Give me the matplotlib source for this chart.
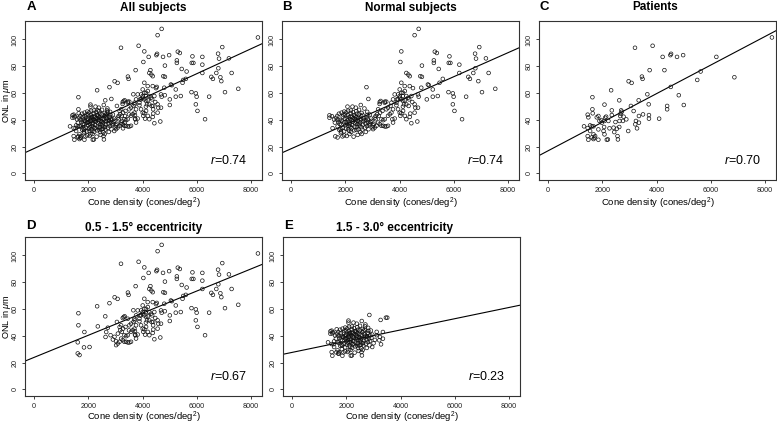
import matplotlib
matplotlib.use("Agg")
import matplotlib.pyplot as plt
import numpy as np

plt.rcParams["font.family"] = ["Liberation Sans", "DejaVu Sans"]
plt.rcParams["mathtext.fontset"] = "custom"
plt.rcParams["mathtext.rm"] = "Liberation Sans"
plt.rcParams["mathtext.it"] = "Liberation Sans:italic"

# (cone density, ONL thickness)
patients_near = [
    (8250, 101.5), (3200, 93.8), (3850, 95.3), (4220, 87.0), (4505, 88.3), (4530, 89.3),
    (4750, 87.0), (4975, 88.3), (6200, 87.0), (4285, 77.1), (3740, 77.1), (5620, 76.1),
    (5495, 69.8), (6865, 71.8), (3455, 72.3), (3480, 70.6), (2965, 68.8), (3075, 67.6),
    (2320, 62.1), (3655, 59.1), (4520, 64.6), (4815, 58.4), (5000, 51.1), (4385, 50.4),
    (4385, 47.9), (3335, 54.6), (3705, 51.6), (2620, 54.6), (1630, 56.9), (1630, 47.9),
    (4090, 40.9), (3715, 43.6), (3715, 40.9), (3495, 44.1), (3050, 50.4), (3150, 46.6),
    (2040, 31.7), (1850, 42.9), (1605, 35.2), (1605, 26.9), (1670, 25.7),
    (2345, 47.1), (2715, 46.1), (2655, 42.9), (2630, 39.2),
]
patients_far = [
    (1455, 43.9), (1480, 41.9), (1640, 44.9), (1320, 35.2), (1455, 33.9), (1545, 35.9),
    (1670, 35.2), (1545, 31.7), (1455, 27.9), (1480, 25.2), (1670, 29.2), (1730, 27.9),
    (1850, 25.2), (1850, 32.9), (1890, 39.2), (1790, 41.9), (1950, 39.9), (1975, 37.9),
    (2075, 39.2), (2100, 41.6), (2135, 42.4), (2220, 39.2), (2060, 34.7), (2075, 29.2),
    (2160, 25.2), (2200, 25.4), (2260, 33.7), (2345, 43.6), (2410, 34.2), (2435, 30.9),
    (2480, 38.4), (2530, 33.4), (2555, 27.9), (2570, 25.4), (2620, 34.7), (2670, 44.6),
    (2690, 47.1), (2755, 39.2), (2780, 42.4), (2880, 40.4), (2950, 31.7), (3210, 36.7),
    (3235, 39.2), (3275, 33.7), (3345, 37.9), (3345, 42.9), (2075, 51.4), (1705, 26.7),
]
normals_near = [
    (2775, 64.4), (2815, 40.5), (2960, 39.3), (2900, 37.3), (3020, 36.0), (3080, 34.3),
    (1835, 31.4), (3205, 47.9), (3265, 53.3), (3300, 54.1), (3170, 44.2), (3230, 43.0),
    (3280, 45.4), (3365, 46.7), (3325, 40.5), (3390, 39.8), (3205, 38.0), (3265, 36.8),
    (3325, 35.6), (3390, 35.6), (3450, 35.1), (3510, 35.1), (3570, 35.6), (3145, 35.6),
    (3450, 40.5), (3570, 43.0), (3635, 44.2), (3695, 45.4), (3755, 47.9), (3570, 49.1),
    (3660, 50.4), (3730, 40.5), (3815, 41.0), (3755, 38.0), (3510, 47.9), (3085, 41.7),
    (3020, 33.1), (3450, 52.8), (3695, 52.8), (3880, 52.8), (3940, 55.3), (4000, 56.5),
    (4060, 55.3), (4120, 57.8), (4000, 62.7), (4060, 67.7), (4120, 60.2), (4185, 65.2),
    (3940, 47.9), (4000, 45.4), (4120, 49.9), (4160, 51.6), (3815, 59.0), (3755, 55.3),
    (4700, 107.9), (4550, 103.2), (4060, 91.1), (4025, 83.2), (5295, 90.9), (5370, 89.9),
    (5260, 84.4), (5260, 82.5), (4820, 80.5), (5835, 87.4), (5810, 82.5), (5870, 82.5),
    (6200, 81.2), (6780, 89.4), (6935, 94.3), (7180, 85.9), (6815, 85.7), (6790, 78.5),
    (4245, 75.0), (4320, 73.8), (4370, 72.6), (4760, 72.6), (4820, 72.1), (5440, 78.0),
    (6200, 75.0), (6715, 75.0), (6530, 72.1), (6590, 70.6), (6900, 68.9), (7280, 75.0),
    (6450, 57.3), (7035, 60.7), (7525, 63.2), (5990, 57.3), (5800, 60.7), (5960, 59.8),
    (6300, 40.5), (5960, 51.6), (6020, 46.7), (5590, 70.6), (5220, 62.7), (5040, 66.4),
    (5075, 65.9), (4795, 64.0), (4675, 59.0), (4370, 65.2), (4490, 63.7), (4190, 61.5),
    (4060, 60.2), (3940, 59.0), (4000, 57.8), (4245, 57.8), (4310, 56.5), (4430, 57.8),
    (4700, 57.3), (5000, 55.3), (5220, 57.3), (5405, 57.8), (5470, 67.7), (4125, 54.1),
    (4190, 54.6), (4350, 55.3), (4465, 53.3), (4245, 51.6), (4550, 51.6), (4675, 49.1),
    (4330, 50.4), (4125, 46.7), (4060, 44.9), (4025, 43.0), (4190, 43.0), (4390, 44.7),
    (4550, 45.4), (4575, 49.1), (4370, 42.2), (4430, 37.5), (4650, 38.8), (4245, 40.5),
    (3900, 55.3), (3880, 50.9),
]
normals_far = [
    (2845, 55.6), (3260, 51.9), (3455, 53.6), (3505, 53.6), (3115, 40.5), (3115, 43.0),
    (2565, 51.1), (2380, 49.1), (2075, 49.9), (2260, 49.9), (1855, 45.4), (1955, 46.2),
    (1410, 43.4), (1410, 41.6), (1500, 42.8), (1580, 40.3), (1610, 38.0), (1710, 35.1),
    (1770, 32.6), (1830, 30.1), (1890, 27.7), (1525, 33.8), (1625, 27.7), (1710, 26.9),
    (1950, 28.5), (2050, 28.0), (2150, 29.5), (2300, 27.5), (2450, 28.8), (2600, 29.5),
    (2750, 31.0), (2850, 33.0), (3000, 34.5), (3050, 37.0), (2950, 41.0), (2900, 44.0),
    (2800, 46.0), (2700, 48.5), (2500, 47.5), (2400, 46.5), (2200, 47.0), (2100, 46.8),
    (1980, 44.0), (1900, 42.5), (1800, 40.0), (1750, 38.5), (1700, 43.0), (1650, 41.5),
    (1850, 36.5), (1900, 34.0), (1950, 31.5), (2000, 36.0), (2020, 38.5), (2050, 41.0),
    (2080, 43.5), (2100, 33.0), (2120, 35.5), (2150, 38.0), (2170, 40.5), (2190, 42.5),
    (2200, 44.8), (2210, 31.0), (2230, 33.8), (2250, 36.2), (2270, 38.7), (2290, 41.2),
    (2310, 43.5), (2330, 35.0), (2350, 37.5), (2370, 40.0), (2390, 42.0), (2400, 32.5),
    (2420, 34.6), (2440, 36.8), (2460, 39.2), (2480, 41.5), (2500, 44.0), (2520, 35.8),
    (2540, 38.0), (2560, 40.3), (2580, 42.8), (2600, 45.2), (2620, 32.8), (2640, 36.5),
    (2660, 38.9), (2680, 41.0), (2720, 34.2), (2740, 37.2), (2760, 39.8), (2790, 35.4),
    (2810, 43.8), (2830, 37.9), (2870, 36.2), (2920, 38.5), (1950, 38.2), (1980, 40.8),
    (2010, 33.5), (2030, 45.5), (2060, 37.0), (2090, 39.6), (2130, 42.0), (2140, 31.8),
    (2180, 34.6), (2240, 39.8), (2280, 45.8), (2320, 32.2), (2360, 43.0), (2380, 38.9),
    (2430, 44.6), (2470, 33.0), (2510, 37.0), (2550, 30.8), (2590, 34.5), (2630, 43.7),
    (2700, 39.7), (2780, 41.8), (1760, 44.6), (1790, 36.9), (1820, 33.2), (1870, 39.2),
    (1920, 43.9), (1720, 40.1), (2160, 36.6), (2340, 40.8), (2530, 40.9), (2230, 42.3),
]

letters = ["A", "B", "C", "D", "E"]
titles = ["All subjects", "Normal subjects", "Patients",
          "0.5 - 1.5\u00b0 eccentricity", "1.5 - 3.0\u00b0 eccentricity"]
r_labels = ["0.74", "0.74", "0.70", "0.67", "0.23"]
intercepts = [18.7, 18.5, 17.0, 24.0, 27.7]
slopes = [9.3e-3, 8.96e-3, 10.66e-3, 8.25e-3, 4.19e-3]

groups = [
    patients_near + patients_far + normals_near + normals_far,
    normals_near + normals_far,
    patients_near + patients_far,
    patients_near + normals_near,
    patients_far + normals_far,
]

W, H = 777, 426
fig = plt.figure(figsize=(W / 100, H / 100), dpi=100)

# axes boxes in pixels: left, top
boxes = [(25, 20.7), (282, 20.7), (539, 20.7), (25, 236.7), (283, 236.7)]
bw, bh = 237, 159.5
title_pos = [(153, 7.5), (411, 7.5), (655.5, 7.5), (144, 227.5), (394, 227.5)]
letter_pos = [(27, 7.5), (282, 7.5), (539, 7.5), (26, 225.5), (284, 225.5)]

for i in range(5):
    left, top = boxes[i]
    ax = fig.add_axes([left / W, 1 - (top + bh) / H, bw / W, bh / H])
    pts = np.array(groups[i])
    ax.scatter(pts[:, 0], pts[:, 1], s=7, facecolors="none",
               edgecolors="#111111", linewidths=0.5, zorder=3)
    ax.axline((0, intercepts[i]), slope=slopes[i], color="black", lw=0.8)

    ax.set_xlim(-340, 8400)
    ax.set_ylim(-5, 114)
    ax.set_xticks([0, 2000, 4000, 6000, 8000])
    ax.set_yticks([0, 20, 40, 60, 80, 100])
    ax.tick_params(labelsize=5.2, length=2.5, width=0.6, pad=2.2, colors="#222222")
    for lab in ax.get_yticklabels():
        lab.set_rotation(90)
        lab.set_va("center")
    for sp in ax.spines.values():
        sp.set_linewidth(0.8)
        sp.set_color("#333333")

    ax.text(1 - 15 / bw, 16 / bh, "$r$=" + r_labels[i], transform=ax.transAxes,
            ha="right", va="baseline", fontsize=9)

    xlab_y = 203 if i < 3 else 417
    fig.text((left + bw / 2) / W, 1 - xlab_y / H, "Cone density (cones/deg$^{2}$)",
             ha="center", va="center", fontsize=6.8)

    tx, ty = title_pos[i]
    fig.text(tx / W, 1 - ty / H, titles[i], ha="center", va="center",
             fontsize=8.5, fontweight="bold")
    lx, ly = letter_pos[i]
    fig.text(lx / W, 1 - ly / H, letters[i], ha="left", va="center",
             fontsize=9.5, fontweight="bold")

    if i in (0, 3):
        fig.text(6.5 / W, 1 - (top + bh / 2) / H, "ONL in $\\mu$m", rotation=90,
                 ha="center", va="center", fontsize=6.6)

fig.savefig("out.png", dpi=100)
